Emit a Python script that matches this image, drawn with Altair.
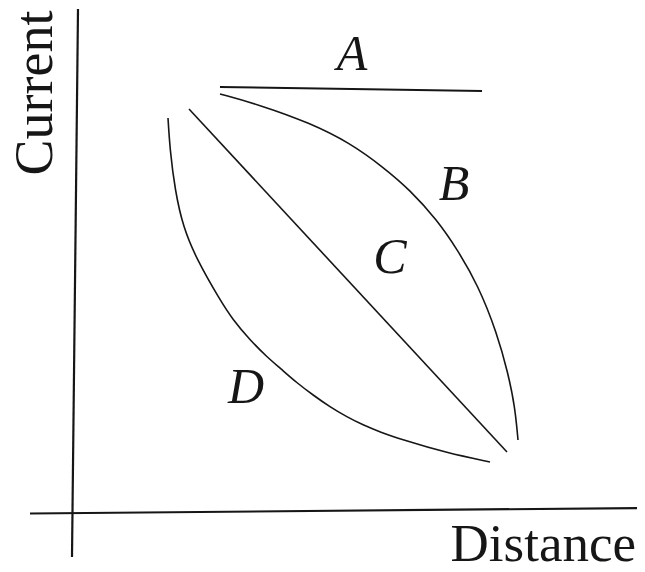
import altair as alt
import pandas as pd

# Diagram coordinates: x = distance, y = current (origin at the axes' crossing)
axis_v_x = [5, -1]
axis_v_y = [504, -44]
axis_h_x = [-43, 572]
axis_h_y = [-0.5, 5]

a_x = [147, 409]
a_y = [426, 422]

b_x = [147, 187, 237, 277, 310, 337, 364, 384, 405, 424, 435, 442, 445]
b_y = [419, 408, 390, 370, 346, 323, 293, 264, 228, 180, 140, 106, 73]

c_x = [116, 434]
c_y = [404, 61]

d_x = [95, 97, 102, 110, 124, 147, 160, 177, 194, 207, 224, 240, 257, 274, 290, 307, 330, 374, 417]
d_y = [395, 363, 323, 286, 253, 213, 193, 173, 156, 145, 130, 118, 106, 96, 88, 81, 73, 60, 51]

curve_labels = ["A", "B", "C", "D"]
label_x = [279, 381, 317, 173]
label_y = [443, 313, 240, 110]

axis_titles = ["Current", "Distance"]

rows = []
for name, xs, ys, w in [
    ("axis_v", axis_v_x, axis_v_y, 2.2),
    ("axis_h", axis_h_x, axis_h_y, 2.2),
    ("A", a_x, a_y, 1.9),
    ("B", b_x, b_y, 1.6),
    ("C", c_x, c_y, 1.6),
    ("D", d_x, d_y, 1.6),
]:
    for i, (x, y) in enumerate(zip(xs, ys)):
        rows.append({"series": name, "i": i, "x": x, "y": y, "w": w})
lines_df = pd.DataFrame(rows)

labels_df = pd.DataFrame({"label": curve_labels, "x": label_x, "y": label_y})

xs = alt.Scale(domain=[-65, 564], nice=False, zero=False)
ys = alt.Scale(domain=[-49, 505], nice=False, zero=False)

lines = alt.Chart(lines_df).mark_line(
    color="#161616", interpolate="basis", clip=False
).encode(
    x=alt.X("x:Q", scale=xs, axis=None),
    y=alt.Y("y:Q", scale=ys, axis=None),
    detail="series:N",
    order="i:Q",
    strokeWidth=alt.StrokeWidth("w:Q", scale=None),
)

labels = alt.Chart(labels_df).mark_text(
    font="Liberation Serif", fontStyle="italic", fontSize=50,
    color="#161616", align="center", baseline="alphabetic",
).encode(
    x=alt.X("x:Q", scale=xs, axis=None),
    y=alt.Y("y:Q", scale=ys, axis=None),
    text="label:N",
)

ytitle_df = pd.DataFrame({"t": [axis_titles[0]], "x": [-21], "y": [420]})
xtitle_df = pd.DataFrame({"t": [axis_titles[1]], "x": [563], "y": [-48]})

ytitle = alt.Chart(ytitle_df).mark_text(
    font="Liberation Serif", fontSize=54, color="#161616",
    align="center", baseline="alphabetic", angle=270,
).encode(
    x=alt.X("x:Q", scale=xs, axis=None),
    y=alt.Y("y:Q", scale=ys, axis=None),
    text="t:N",
)

xtitle = alt.Chart(xtitle_df).mark_text(
    font="Liberation Serif", fontSize=53, color="#161616",
    align="right", baseline="alphabetic",
).encode(
    x=alt.X("x:Q", scale=xs, axis=None),
    y=alt.Y("y:Q", scale=ys, axis=None),
    text="t:N",
)

chart = alt.layer(lines, labels, ytitle, xtitle).properties(
    width=629, height=554, padding=0, autosize="none", background="white"
).configure_view(stroke=None)

chart.save("out.html", embed_options={"renderer": "svg", "actions": False})
